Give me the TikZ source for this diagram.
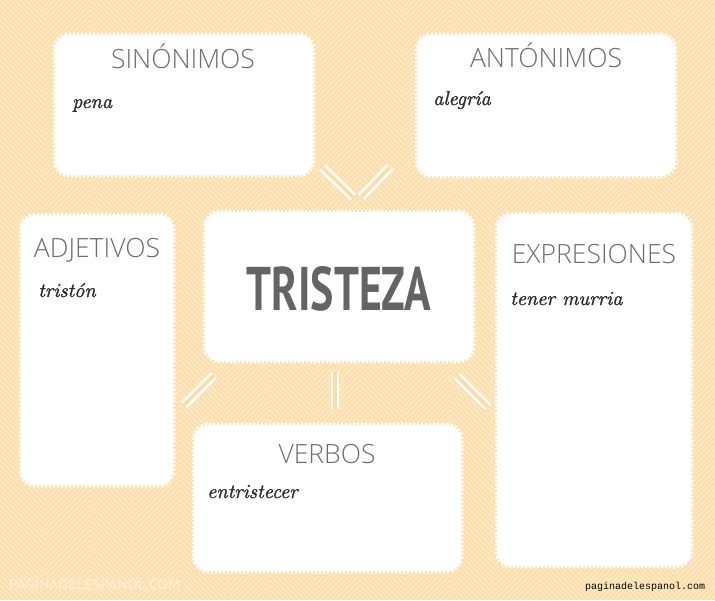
\documentclass[tikz,border=0pt]{standalone}
\usepackage{fontspec}
\newfontfamily\headfont{Open Sans Light}
\newfontfamily\titlefont{PT Sans}
\newfontfamily\footmono{Liberation Mono}
\newfontfamily\handfont{lmroman10-italic.otf}[FakeBold=1.3]
\definecolor{bgc}{RGB}{252,221,168}
\definecolor{headc}{RGB}{110,110,110}
\definecolor{titlec}{RGB}{100,100,100}
\definecolor{entryc}{RGB}{45,45,45}
\tikzset{
  card/.style={draw=white, fill=white, line width=4.5pt, dash pattern=on 2pt off 2pt,
    rounded corners=14pt, inner sep=0pt},
  head/.style={anchor=base, inner sep=0pt, text=headc, font=\headfont\fontsize{26.5}{30}\selectfont},
  entry/.style={anchor=base west, inner sep=0pt, text=entryc, font=\handfont\fontsize{20}{24}\selectfont},
  link/.style={draw=white, line width=2.6pt, double=bgc, double distance=3.6pt},
}
\begin{document}
\begin{tikzpicture}[x=1pt,y=-1pt]
\useasboundingbox (0,0) rectangle (715,600);
\fill[bgc] (0,0) rectangle (715,600);
\begin{scope}
\clip (0,0) rectangle (715,600);
\foreach \yy in {-50,-45,...,650}{
  \draw[white, opacity=0.3, line width=1.8pt]
    (0,\yy) \foreach \k in {1,...,16}{ -- ({\k*45},{\yy+45*mod(\k,2)}) };
}
\end{scope}
% cards
\node[card, minimum width=258pt, minimum height=140pt] (sin) at (184,105) {};
\node[card, minimum width=258pt, minimum height=141pt] (ant) at (546,105.5) {};
\node[card, minimum width=152pt, minimum height=270pt] (adj) at (97,350) {};
\node[card, minimum width=268pt, minimum height=149pt] (tri) at (339,286.5) {};
\node[card, minimum width=194pt, minimum height=352pt] (exp) at (594,390) {};
\node[card, minimum width=267pt, minimum height=146pt] (ver) at (327.5,498) {};
% headings
\node[head] (hsin) at (183,68) {SINÓNIMOS};
\node[head] (hant) at (546,67) {ANTÓNIMOS};
\node[head] (hadj) at (97,257) {ADJETIVOS};
\node[head] (hexp) at (594,263) {EXPRESIONES};
\node[head] (hver) at (327,463) {VERBOS};
\node[anchor=south, inner sep=0pt, text=titlec] (htri) at (339,312)
  {\resizebox{184pt}{44pt}{\titlefont\bfseries TRISTEZA}};
% entries
\node[entry] (esin) at (72,108) {pena};
\node[entry] (eant) at (433,105) {alegría};
\node[entry] (eadj) at (38,297) {tristón};
\node[entry] (eexp) at (510,305) {tener murria};
\node[entry] (ever) at (207,498) {entristecer};
% connectors
\coordinate (l1a) at (323,168); \coordinate (l1b) at (353,197);
\coordinate (l2a) at (390,167); \coordinate (l2b) at (361,197);
\coordinate (l3a) at (184,405); \coordinate (l3b) at (214,375);
\coordinate (l4a) at (335,371); \coordinate (l4b) at (335,409);
\coordinate (l5a) at (457,376); \coordinate (l5b) at (488,407);
\draw[link] (l1a) -- (l1b);
\draw[link] (l2a) -- (l2b);
\draw[link] (l3a) -- (l3b);
\draw[link] (l4a) -- (l4b);
\draw[link] (l5a) -- (l5b);
% footer
\node[anchor=south west, inner sep=0pt, text=white, opacity=0.5] (fl) at (9,590)
  {\resizebox{171pt}{10pt}{\titlefont PAGINADELESPANOL.COM}};
\node[anchor=base west, inner sep=0pt, text=black, font=\footmono\fontsize{10}{12}\selectfont] (fr) at (585,589) {paginadelespanol.com};
\end{tikzpicture}
\end{document}
